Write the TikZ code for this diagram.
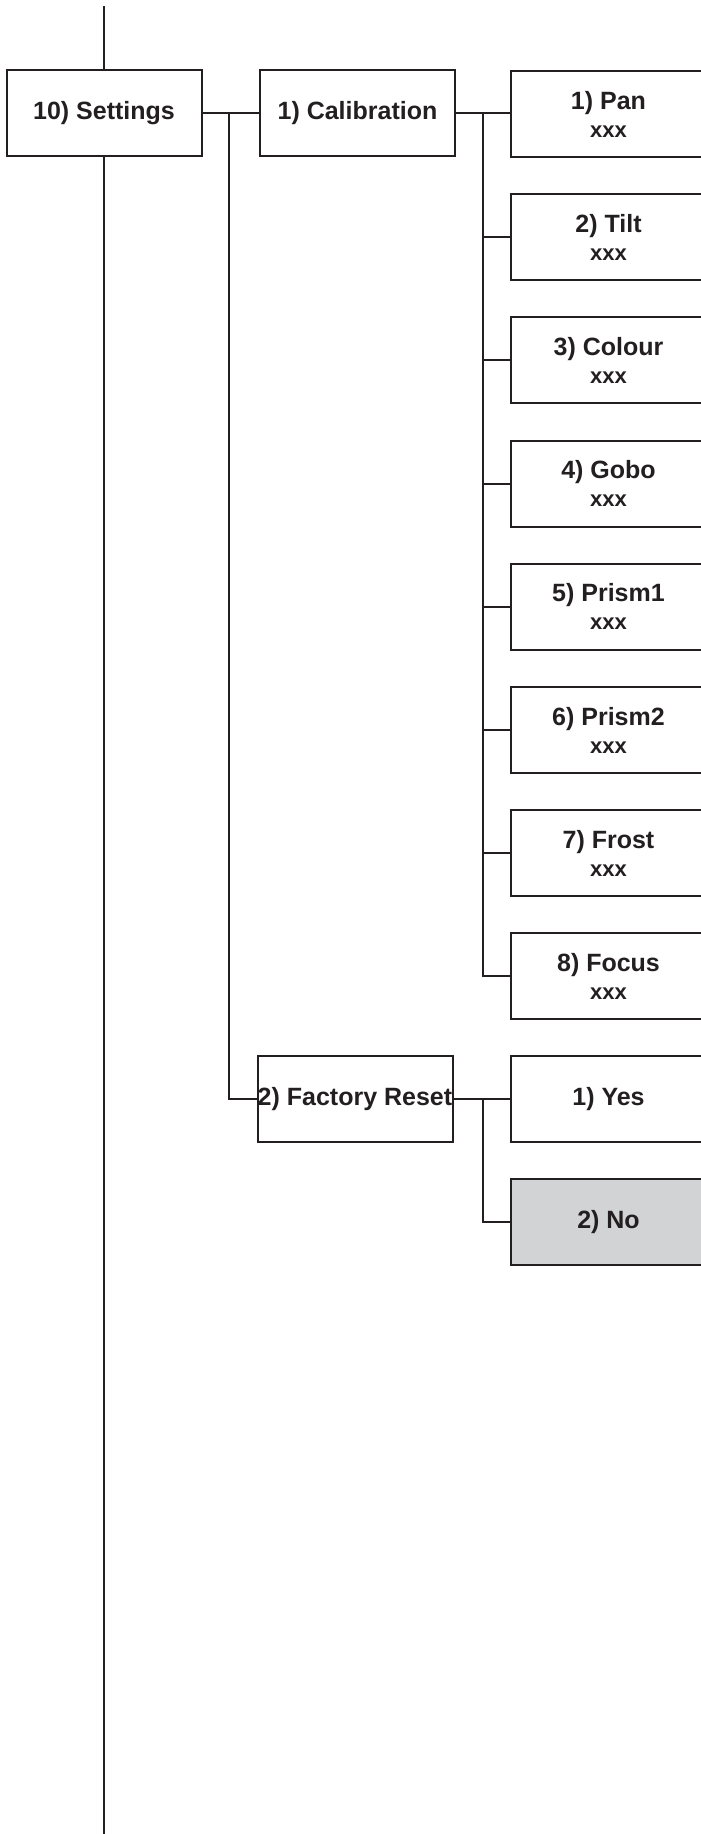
\documentclass[tikz,border=0pt]{standalone}
\usepackage{fontspec}
\setmainfont{Liberation Sans}
\definecolor{ink}{HTML}{231F20}
\definecolor{shade}{HTML}{D1D3D4}
\newcommand{\titlefont}{\fontsize{25}{26}\selectfont\bfseries}
\newcommand{\subfont}{\fontsize{22}{26}\selectfont\bfseries}
\begin{document}
\begin{tikzpicture}[x=1pt,y=-1pt,
  wire/.style={line width=2pt,draw=ink},
  menubox/.style={rectangle,draw=ink,line width=2pt,minimum width=195pt,minimum height=86pt,
    inner sep=0pt,align=center,text=ink,font=\titlefont},
  greybox/.style={menubox,fill=shade}]
\useasboundingbox (0,0) rectangle (701,1834);
\def\dy{123.2}
% main menu column
\node[menubox] (set) at (104,113) {10) Settings};
\node[menubox] (cal) at (357.5,113) {1) Calibration};
\node[menubox] (fr) at (355,{113+8*\dy}) {2) Factory Reset};
% calibration items
\node[menubox] (pan) at (608.5,{114+0*\dy}) {1) Pan\\[2pt]{\subfont xxx}};
\node[menubox] (tilt) at (608.5,{114+1*\dy}) {2) Tilt\\[2pt]{\subfont xxx}};
\node[menubox] (col) at (608.5,{114+2*\dy}) {3) Colour\\[2pt]{\subfont xxx}};
\node[menubox] (gobo) at (608.5,{114+3*\dy}) {4) Gobo\\[2pt]{\subfont xxx}};
\node[menubox] (pr1) at (608.5,{114+4*\dy}) {5) Prism1\\[2pt]{\subfont xxx}};
\node[menubox] (pr2) at (608.5,{114+5*\dy}) {6) Prism2\\[2pt]{\subfont xxx}};
\node[menubox] (frost) at (608.5,{114+6*\dy}) {7) Frost\\[2pt]{\subfont xxx}};
\node[menubox] (focus) at (608.5,{114+7*\dy}) {8) Focus\\[2pt]{\subfont xxx}};
% factory reset items
\node[menubox] (yes) at (608.5,{113+8*\dy}) {1) Yes};
\node[greybox] (no) at (608.5,{113+9*\dy}) {2) No};
% main vertical line
\coordinate (top) at (104,6);
\coordinate (bot) at (104,1840);
\draw[wire] (top) -- (set.north);
\draw[wire] (set.south) -- (bot);
% settings -> submenus
\coordinate (j1) at (229,113);
\draw[wire] (set.east) -- (cal.west);
\draw[wire] (j1) |- (fr.west);
% calibration -> items
\coordinate (j2) at (483,113);
\draw[wire] (cal.east) -- (cal.east -| pan.west);
\draw[wire] (j2) |- (focus.west);
\foreach \n in {tilt,col,gobo,pr1,pr2,frost}{
  \draw[wire] (j2 |- \n.west) -- (\n.west);
}
% factory reset -> items
\coordinate (j3) at (483,{113+8*\dy});
\draw[wire] (fr.east) -- (yes.west);
\draw[wire] (j3) |- (no.west);
\end{tikzpicture}
\end{document}
